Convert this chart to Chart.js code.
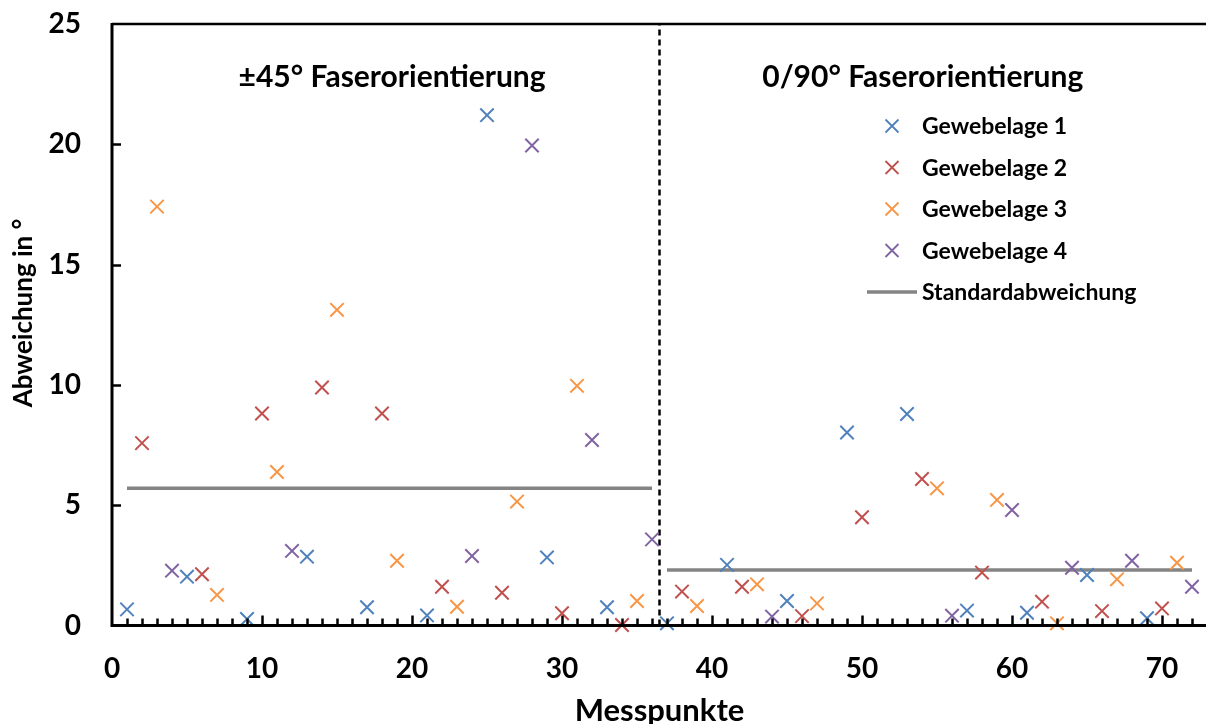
<!DOCTYPE html>
<html>
<head>
<meta charset="utf-8">
<script src="https://cdn.jsdelivr.net/npm/chart.js@4.4.1/dist/chart.umd.min.js"></script>
<style>
  html, body { margin: 0; padding: 0; overflow: hidden; background: #fff; }
  #wrap { width: 1208px; height: 730px; }
</style>
</head>
<body>
<div id="wrap"><canvas id="abweichung_chart"></canvas></div>
<script>
// Messpunkte je Gewebelage (jeder vierte Punkt gehoert zur selben Lage)
var mp1 = [1, 5, 9, 13, 17, 21, 25, 29, 33, 37, 41, 45, 49, 53, 57, 61, 65, 69];
var mp2 = [2, 6, 10, 14, 18, 22, 26, 30, 34, 38, 42, 46, 50, 54, 58, 62, 66, 70];
var mp3 = [3, 7, 11, 15, 19, 23, 27, 31, 35, 39, 43, 47, 51, 55, 59, 63, 67, 71];
var mp4 = [4, 8, 12, 16, 20, 24, 28, 32, 36, 40, 44, 48, 52, 56, 60, 64, 68, 72];

// Abweichung in Grad (null = kein Messwert)
var lage1 = [0.67, 2.03, 0.27, 2.86, 0.76, 0.42, 21.21, 2.83, 0.76, 0.09, 2.52, 1.02, 8.02, 8.79, 0.62, 0.53, 2.10, 0.30];
var lage2 = [7.58, 2.13, 8.81, 9.89, 8.81, 1.61, 1.36, 0.51, 0.02, 1.41, 1.61, 0.39, 4.50, 6.09, 2.20, 0.99, 0.60, 0.71];
var lage3 = [17.41, 1.27, 6.38, 13.12, 2.69, 0.78, 5.15, 9.96, 1.02, 0.81, 1.71, 0.92, null, 5.70, 5.22, 0.09, 1.92, 2.61];
var lage4 = [2.28, null, 3.10, null, null, 2.89, 19.95, 7.71, 3.58, null, 0.37, null, null, 0.41, 4.80, 2.40, 2.69, 1.61];

// Standardabweichung je Bereich
var stdBereich1 = [1, 36];
var stdBereich2 = [37, 72];
var stdWerte = [5.70, 2.31];
var trennung = 36.5;

var xTicks = [0, 10, 20, 30, 40, 50, 60, 70];
var yTicks = [0, 5, 10, 15, 20, 25];

var serienLabels = ["Gewebelage 1", "Gewebelage 2", "Gewebelage 3", "Gewebelage 4"];
var serienFarben = ["#4F81BD", "#C0504D", "#F79646", "#8064A2"];
var bereichTitel = ["\u00B145\u00B0 Faserorientierung", "0/90\u00B0 Faserorientierung"];
var yTitel = "Abweichung in \u00B0";

var FONT = "Lato, 'Open Sans', sans-serif";

function punkte(xs, ys) {
    var out = [];
    for (var i = 0; i < xs.length; i++) {
        if (ys[i] !== null) out.push({ x: xs[i], y: ys[i] });
    }
    return out;
}

function kreuzSerie(i, xs, ys) {
    return {
        type: 'scatter',
        label: serienLabels[i],
        data: punkte(xs, ys),
        pointStyle: 'crossRot',
        pointRadius: 9.5,
        pointHoverRadius: 9.5,
        borderColor: serienFarben[i],
        backgroundColor: serienFarben[i],
        pointBorderWidth: 2,
        clip: false,
        inLegend: true
    };
}

function festeTicks(werte) {
    return function (scale) {
        scale.ticks = werte.map(function (v) { return { value: v }; });
    };
}

// Achsenstriche, Rahmen, Titel und Legende
var zeichnen = {
    id: 'zeichnen',
    afterDraw: function (chart) {
        var ctx = chart.ctx;
        var a = chart.chartArea;
        var xs = chart.scales.x, ys = chart.scales.y;
        ctx.save();

        // Rahmen oben
        ctx.strokeStyle = '#000';
        ctx.lineWidth = 2.5;
        ctx.beginPath();
        ctx.moveTo(a.left, a.top);
        ctx.lineTo(a.right + 5, a.top);
        ctx.stroke();

        // Striche nach innen
        ctx.lineWidth = 2.5;
        ctx.beginPath();
        for (var v = 1; v <= 72; v++) {
            var px = Math.round(xs.getPixelForValue(v)) + 0.5;
            var len = (v % 10 === 0) ? 10 : 7;
            ctx.moveTo(px, a.bottom);
            ctx.lineTo(px, a.bottom - len);
        }
        for (var w = 5; w <= 20; w += 5) {
            var py = Math.round(ys.getPixelForValue(w)) + 0.5;
            ctx.moveTo(a.left, py);
            ctx.lineTo(a.left + 9, py);
        }
        ctx.stroke();

        // Achsenlinien
        ctx.lineWidth = 3;
        ctx.beginPath();
        ctx.moveTo(a.left, a.top - 1);
        ctx.lineTo(a.left, a.bottom + 1.5);
        ctx.moveTo(a.left - 1.5, a.bottom);
        ctx.lineTo(a.right + 5, a.bottom);
        ctx.stroke();

        // y-Achsentitel
        ctx.fillStyle = '#000';
        ctx.font = "bold 26px " + FONT;
        ctx.textAlign = 'center';
        ctx.textBaseline = 'middle';
        ctx.save();
        ctx.translate(24, 313);
        ctx.rotate(-Math.PI / 2);
        ctx.fillText(yTitel, 0, 0);
        ctx.restore();

        // Bereichstitel
        ctx.font = "bold 30px " + FONT;
        ctx.fillText(bereichTitel[0], xs.getPixelForValue(18.67), ys.getPixelForValue(22.8));
        ctx.fillText(bereichTitel[1], xs.getPixelForValue(54.05), ys.getPixelForValue(22.8));

        // Legende
        var lx = 892, tx = 922, ly = 126, step = 41.5;
        ctx.font = "bold 23px " + FONT;
        ctx.textAlign = 'left';
        var row = 0;
        chart.data.datasets.forEach(function (ds) {
            if (!ds.inLegend) return;
            var y = ly + row * step;
            if (ds.type === 'scatter') {
                var r = 6.5;
                ctx.strokeStyle = ds.borderColor;
                ctx.lineWidth = 1.8;
                ctx.beginPath();
                ctx.moveTo(lx - r, y - r);
                ctx.lineTo(lx + r, y + r);
                ctx.moveTo(lx - r, y + r);
                ctx.lineTo(lx + r, y - r);
                ctx.stroke();
            } else {
                ctx.strokeStyle = ds.borderColor;
                ctx.lineWidth = ds.borderWidth;
                ctx.beginPath();
                ctx.moveTo(867, y);
                ctx.lineTo(917, y);
                ctx.stroke();
            }
            ctx.fillStyle = '#000';
            ctx.fillText(ds.label, tx, y + 1);
            row++;
        });
        ctx.restore();
    }
};

new Chart(document.getElementById("abweichung_chart").getContext("2d"), {
    data: {
        datasets: [
            kreuzSerie(0, mp1, lage1),
            kreuzSerie(1, mp2, lage2),
            kreuzSerie(2, mp3, lage3),
            kreuzSerie(3, mp4, lage4),
            {
                type: 'line',
                label: 'Standardabweichung',
                data: [{ x: stdBereich1[0], y: stdWerte[0] }, { x: stdBereich1[1], y: stdWerte[0] }],
                borderColor: '#848484',
                borderWidth: 3.5,
                pointRadius: 0,
                inLegend: true
            },
            {
                type: 'line',
                label: 'Standardabweichung 0/90',
                data: [{ x: stdBereich2[0], y: stdWerte[1] }, { x: stdBereich2[1], y: stdWerte[1] }],
                borderColor: '#848484',
                borderWidth: 3.5,
                pointRadius: 0
            },
            {
                type: 'line',
                label: 'Trennung',
                data: [{ x: trennung, y: 0 }, { x: trennung, y: 25 }],
                borderColor: '#000',
                borderWidth: 2.5,
                borderDash: [6, 4],
                pointRadius: 0
            }
        ]
    },
    options: {
        responsive: true,
        maintainAspectRatio: false,
        animation: false,
        layout: { autoPadding: false, padding: { top: 24, right: 1, left: 0, bottom: 0 } },
        plugins: {
            legend: { display: false },
            tooltip: { enabled: false }
        },
        scales: {
            x: {
                type: 'linear',
                min: 0,
                max: 73,
                grid: { display: false, drawTicks: false },
                border: { display: false },
                afterBuildTicks: festeTicks(xTicks),
                afterFit: function (scale) {
                    scale.height = 104.5;
                    scale.paddingLeft = 0;
                    scale.paddingRight = 0;
                },
                ticks: {
                    padding: 27,
                    color: '#000',
                    font: { family: FONT, size: 28, weight: 'bold' }
                },
                title: {
                    display: true,
                    text: 'Messpunkte',
                    color: '#000',
                    padding: { top: 0, bottom: 0 },
                    font: { family: FONT, size: 31, weight: 'bold' }
                }
            },
            y: {
                min: 0,
                max: 25,
                grid: { display: false, drawTicks: false },
                border: { display: false },
                afterBuildTicks: festeTicks(yTicks),
                afterFit: function (scale) {
                    scale.width = 112;
                    scale.paddingTop = 0;
                    scale.paddingBottom = 0;
                },
                ticks: {
                    padding: 31,
                    color: '#000',
                    font: { family: FONT, size: 28, weight: 'bold' }
                }
            }
        }
    },
    plugins: [zeichnen]
});
</script>
</body>
</html>
